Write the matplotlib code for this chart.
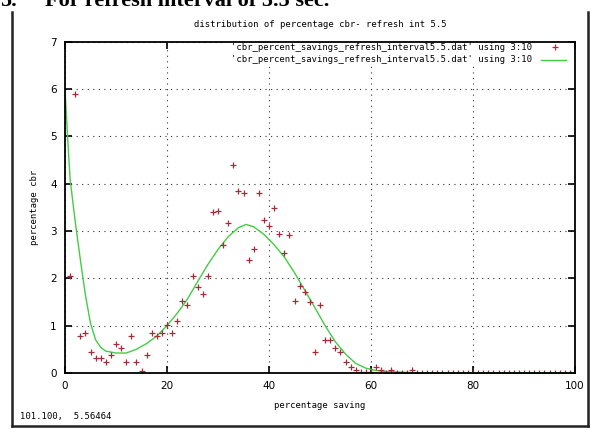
import matplotlib.pyplot as plt
from matplotlib.lines import Line2D
from matplotlib.patches import Rectangle

# ==============================
# DATA
# ==============================
pts_x = [1, 2, 3, 4, 5, 6, 7, 8, 9, 10, 11, 12, 13, 14, 15, 16, 17, 18, 19, 20,
         21, 22, 23, 24, 25, 26, 27, 28, 29, 30, 31, 32, 33, 34, 35, 36, 37, 38, 39, 40,
         41, 42, 43, 44, 45, 46, 47, 48, 49, 50, 51, 52, 53, 54, 55, 56, 57, 58, 59, 60,
         61, 62, 63, 64, 65, 66, 67, 68, 69, 70, 71, 72, 73, 74, 75, 76, 77, 78, 79, 80,
         81, 82, 83, 84, 85, 86, 87, 88, 89, 90, 91, 92, 93, 94, 95, 96, 97, 98, 99, 100]
pts_y = [2.05, 5.9, 0.78, 0.85, 0.45, 0.31, 0.31, 0.22, 0.38, 0.62, 0.52, 0.22, 0.78, 0.22, 0.05,
         0.38, 0.85, 0.78, 0.85, 1.02, 0.85, 1.10, 1.51, 1.43, 2.05, 1.81, 1.66, 2.05, 3.40, 3.43,
         2.70, 3.18, 4.39, 3.85, 3.80, 2.39, 2.61, 3.81, 3.24, 3.11, 3.49, 2.93, 2.53, 2.92, 1.52,
         1.84, 1.71, 1.50, 0.45, 1.43, 0.69, 0.69, 0.53, 0.45, 0.23, 0.12, 0.06, 0.01, 0.01, 0.01,
         0.13, 0.06, 0.0, 0.06, 0.0, 0.0, 0.0, 0.06, 0.0, 0.0, 0.0, 0.0, 0.0, 0.0, 0.0,
         0.0, 0.0, 0.0, 0.0, 0.0, 0.0, 0.0, 0.0, 0.0, 0.0, 0.0, 0.0, 0.0, 0.0, 0.0,
         0.0, 0.0, 0.0, 0.0, 0.0, 0.0, 0.0, 0.0, 0.0, 0.0]

fit_x = [0, 0.5, 1, 2, 3, 4, 5, 6, 7, 8, 10, 12, 14, 16, 18, 20, 22, 24, 26, 28, 30, 32, 34,
         35.5, 37, 39, 41, 43, 45, 47, 49, 51, 53, 55, 57, 59, 61, 63, 65, 67, 69, 100]
fit_y = [6.0, 5.0, 4.1, 3.2, 2.4, 1.65, 1.05, 0.70, 0.54, 0.46, 0.42, 0.42, 0.50, 0.62, 0.78,
         1.00, 1.26, 1.56, 1.93, 2.29, 2.61, 2.88, 3.07, 3.14, 3.09, 2.93, 2.71, 2.45, 2.12,
         1.75, 1.38, 1.00, 0.66, 0.40, 0.20, 0.10, 0.05, 0.03, 0.02, 0.01, 0.0, 0.0]

title = "distribution of percentage cbr- refresh int 5.5"
legend_label = "'cbr_percent_savings_refresh_interval5.5.dat' using 3:10"
x_ticks = [0, 20, 40, 60, 80, 100]
y_ticks = [0, 1, 2, 3, 4, 5, 6, 7]

W, H = 591, 429
mono = "DejaVu Sans Mono"
fs = 6.4
pt_color = "#a02c3c"
line_color = "#44cc44"

fig = plt.figure(figsize=(W / 100, H / 100), dpi=100)
fig.patch.set_facecolor("white")

# document heading, cut off at the top as in the screenshot
fig.text(0.0, 1 - 6 / H, "5.", family="Liberation Serif", weight="bold", fontsize=16,
         va="baseline", ha="left")
fig.text(45 / W, 1 - 6 / H, "For refresh interval of 5.5 sec.", family="Liberation Serif",
         weight="bold", fontsize=16, va="baseline", ha="left")

# window frame
for xs, ys in [([12, 12], [12, 426]), ([12, 588], [426, 426]), ([588, 588], [12, 426])]:
    fig.add_artist(Line2D([x / W for x in xs], [1 - y / H for y in ys],
                          color="#222222", lw=1.8, transform=fig.transFigure))

ax = fig.add_axes([65 / W, 1 - 372.9 / H, 510 / W, 331 / H])
ax.plot(pts_x, pts_y, "+", color=pt_color, ms=4.5, mew=0.9, zorder=3)
ax.plot(fit_x, fit_y, "-", color=line_color, lw=1.0, zorder=2)

ax.set_xlim(0, 100)
ax.set_ylim(0, 7)
ax.set_xticks(x_ticks)
ax.set_yticks(y_ticks)
ax.tick_params(direction="in", top=True, right=True, length=5, width=1.2,
               labelsize=7.5, colors="black", pad=6)
ax.grid(True, color="#333333", linestyle=(0, (1, 4)), lw=0.8)
for s in ax.spines.values():
    s.set_linewidth(1.3)
    s.set_zorder(5)

ax.set_title(title, family=mono, fontsize=fs, pad=11)
ax.set_xlabel("percentage saving", family=mono, fontsize=fs, labelpad=7)
ax.set_ylabel("percentage cbr", family=mono, fontsize=fs, labelpad=8)

# gnuplot style legend with a white box over the grid, top right
ax.add_patch(Rectangle((225 / W, 1 - 66 / H), 345 / W, 25 / H, transform=fig.transFigure,
                       facecolor="white", edgecolor="none", zorder=4))
for i, (lbl, style) in enumerate([(legend_label, "+"), (legend_label, "-")]):
    ty = 1 - (47 + 13 * i) / H
    fig.text(532 / W, ty, lbl, family=mono, fontsize=fs, ha="right", va="center")
    if style == "+":
        fig.add_artist(Line2D([555 / W], [ty], marker="+", color=pt_color, ms=4.5, mew=0.9,
                              transform=fig.transFigure))
    else:
        fig.add_artist(Line2D([541 / W, 566 / W], [ty, ty], color=line_color, lw=1.0,
                              transform=fig.transFigure))

# status bar
fig.text(20 / W, 1 - 417 / H, "101.100,  5.56464", family=mono, fontsize=fs, va="center")

fig.savefig("out.png", dpi=100)
